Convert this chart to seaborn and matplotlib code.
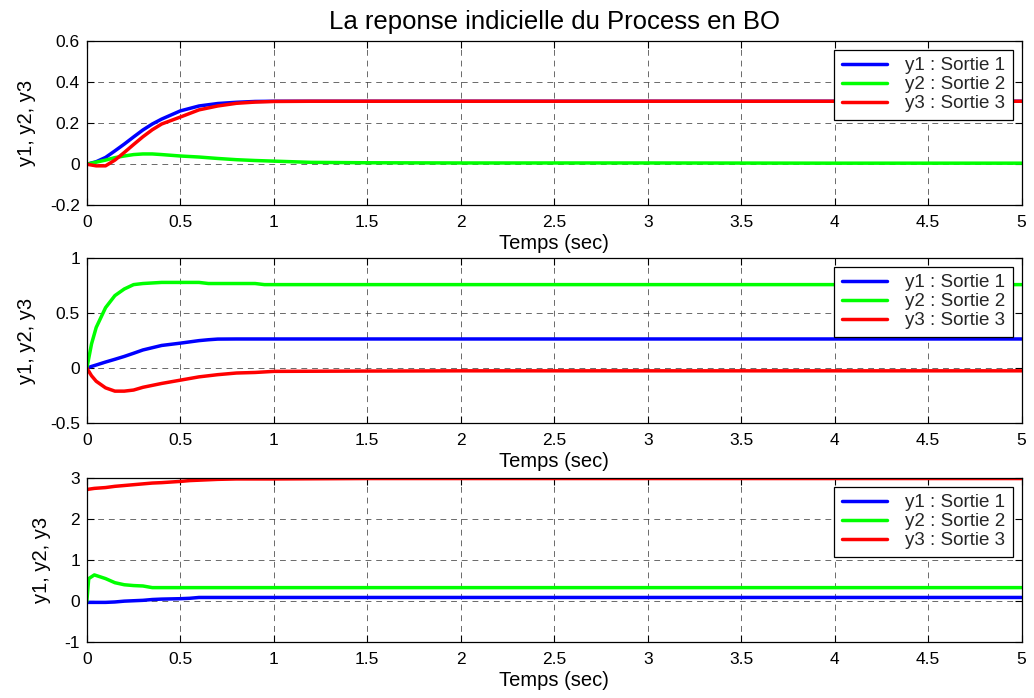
import numpy as np
import pandas as pd
import matplotlib
matplotlib.use("Agg")
import matplotlib.pyplot as plt
import seaborn as sns

# ---------------- data ----------------
title = "La reponse indicielle du Process en BO"
xlabel = "Temps (sec)"
ylabel = "y1, y2, y3"
series_labels = ["y1 : Sortie 1", "y2 : Sortie 2", "y3 : Sortie 3"]
series_colors = ["#0000ff", "#00ff00", "#ff0000"]

# subplot 1
t1 = [0, 0.05, 0.1, 0.15, 0.2, 0.25, 0.3, 0.35, 0.4, 0.5, 0.6, 0.7, 0.8, 0.9, 1.0, 1.2, 1.5, 2.0, 3.0, 4.0, 5.0]
s1_y1 = [0, 0.012, 0.033, 0.065, 0.098, 0.133, 0.167, 0.196, 0.22, 0.26, 0.284, 0.296, 0.302, 0.306, 0.307, 0.307, 0.307, 0.307, 0.307, 0.307, 0.307]
s1_y2 = [0, 0.01, 0.02, 0.032, 0.04, 0.047, 0.05, 0.05, 0.047, 0.04, 0.035, 0.028, 0.022, 0.018, 0.015, 0.009, 0.007, 0.006, 0.006, 0.005, 0.005]
s1_y3 = [0, -0.008, -0.008, 0.02, 0.057, 0.096, 0.134, 0.168, 0.196, 0.23, 0.265, 0.284, 0.297, 0.303, 0.306, 0.307, 0.307, 0.307, 0.307, 0.307, 0.307]

# subplot 2
t2 = [0, 0.025, 0.05, 0.1, 0.15, 0.2, 0.25, 0.3, 0.4, 0.5, 0.6, 0.65, 0.7, 0.8, 0.9, 0.95, 1.0, 1.5, 2.0, 3.0, 4.0, 5.0]
s2_y1 = [0, 0.015, 0.028, 0.055, 0.08, 0.106, 0.135, 0.165, 0.206, 0.227, 0.25, 0.258, 0.264, 0.265, 0.265, 0.265, 0.265, 0.265, 0.265, 0.265, 0.265, 0.265]
s2_y2 = [0, 0.22, 0.37, 0.55, 0.66, 0.72, 0.76, 0.77, 0.78, 0.78, 0.78, 0.77, 0.77, 0.77, 0.77, 0.76, 0.76, 0.76, 0.76, 0.76, 0.76, 0.76]
s2_y3 = [0, -0.07, -0.12, -0.18, -0.21, -0.21, -0.2, -0.175, -0.14, -0.11, -0.08, -0.07, -0.06, -0.045, -0.04, -0.035, -0.03, -0.027, -0.025, -0.025, -0.025, -0.025]

# subplot 3
t3 = [0, 0.01, 0.04, 0.1, 0.15, 0.2, 0.25, 0.3, 0.35, 0.4, 0.5, 0.55, 0.6, 0.7, 0.8, 1.0, 1.5, 2.0, 3.0, 4.0, 5.0]
s3_y1 = [-0.03, -0.03, -0.03, -0.03, -0.02, 0.0, 0.01, 0.02, 0.04, 0.05, 0.06, 0.07, 0.09, 0.09, 0.09, 0.09, 0.09, 0.09, 0.09, 0.09, 0.09]
s3_y2 = [0, 0.55, 0.64, 0.55, 0.45, 0.4, 0.38, 0.37, 0.33, 0.33, 0.33, 0.33, 0.33, 0.33, 0.33, 0.33, 0.33, 0.33, 0.33, 0.33, 0.33]
s3_y3 = [2.72, 2.73, 2.75, 2.77, 2.8, 2.82, 2.84, 2.86, 2.88, 2.89, 2.92, 2.94, 2.95, 2.97, 2.98, 2.98, 2.99, 2.99, 2.99, 2.99, 2.99]

x_ticks = [0, 0.5, 1, 1.5, 2, 2.5, 3, 3.5, 4, 4.5, 5]
x_ticklabels = ["0", "0.5", "1", "1.5", "2", "2.5", "3", "3.5", "4", "4.5", "5"]
y_ticks_1 = [-0.2, 0, 0.2, 0.4, 0.6]
y_ticklabels_1 = ["-0.2", "0", "0.2", "0.4", "0.6"]
y_ticks_2 = [-0.5, 0, 0.5, 1]
y_ticklabels_2 = ["-0.5", "0", "0.5", "1"]
y_ticks_3 = [-1, 0, 1, 2, 3]
y_ticklabels_3 = ["-1", "0", "1", "2", "3"]

# ---------------- plotting ----------------
sns.set_theme(style="white")
plt.rcParams["font.family"] = ["Liberation Sans", "DejaVu Sans"]
plt.rcParams["axes.unicode_minus"] = False

fig = plt.figure(figsize=(10.34, 6.98), dpi=100)
left, width = 0.084, 0.904
boxes = [(0.706, 0.941), (0.394, 0.630), (0.080, 0.315)]

panels = [
    (t1, [s1_y1, s1_y2, s1_y3], y_ticks_1, y_ticklabels_1),
    (t2, [s2_y1, s2_y2, s2_y3], y_ticks_2, y_ticklabels_2),
    (t3, [s3_y1, s3_y2, s3_y3], y_ticks_3, y_ticklabels_3),
]

for i, ((b, t), (tt, ys, yt, ytl)) in enumerate(zip(boxes, panels)):
    ax = fig.add_axes([left, b, width, t - b])
    for y, lab, col in zip(ys, series_labels, series_colors):
        df = pd.DataFrame({"t": tt, "y": y})
        sns.lineplot(data=df, x="t", y="y", ax=ax, color=col, linewidth=2.5,
                     label=lab, legend=False)
    ax.set_xlim(0, 5)
    ax.set_ylim(yt[0], yt[-1])
    ax.set_xticks(x_ticks)
    ax.set_xticklabels(x_ticklabels)
    ax.set_yticks(yt)
    ax.set_yticklabels(ytl)
    ax.tick_params(direction="in", length=5, width=0.8, color="black",
                   labelsize=12.5, labelcolor="black",
                   top=True, right=True, bottom=True, left=True)
    ax.tick_params(axis="x", pad=7)
    ax.tick_params(axis="y", pad=5)
    ax.grid(True, color="#444444", linestyle=(0, (6, 5)), linewidth=0.7, alpha=0.8)
    for sp in ax.spines.values():
        sp.set_color("black")
        sp.set_linewidth(0.9)
        sp.set_visible(True)
    ax.set_xlabel(xlabel, fontsize=14.5, color="black", labelpad=3)
    ax.set_ylabel(ylabel, fontsize=14.5, color="black", labelpad=10)
    leg = ax.legend(loc="upper right", fontsize=13.5, frameon=True, fancybox=False,
                    framealpha=1, edgecolor="black", borderpad=0.4, labelspacing=0.1,
                    handlelength=2.4, handletextpad=1.0, borderaxespad=0.45)
    leg.get_frame().set_linewidth(0.9)
    for line in leg.get_lines():
        line.set_linewidth(2.5)
    if i == 0:
        ax.set_title(title, fontsize=18.5, color="black", pad=9)

fig.savefig("out.png", dpi=100, facecolor="white")
